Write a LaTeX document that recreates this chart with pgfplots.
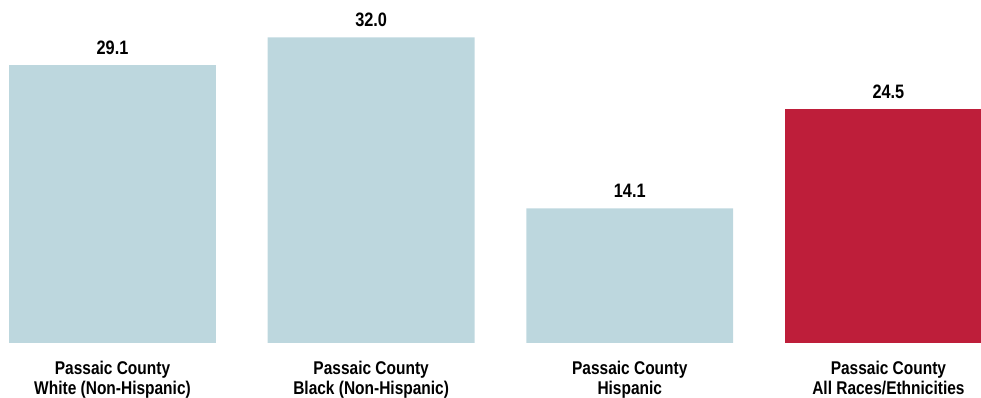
\documentclass[border=0pt]{standalone}
\usepackage{fontspec}
\setmainfont{Liberation Sans}[FakeStretch=0.84]
\usepackage{pgfplots}
\pgfplotsset{compat=1.18}
\definecolor{lightbar}{RGB}{189,215,222}
\definecolor{redbar}{RGB}{190,30,58}
\begin{document}
\begin{tikzpicture}
\begin{axis}[
  scale only axis,
  width=981bp, height=343bp,
  xmin=-0.435, xmax=3.358,
  ymin=0, ymax=35.92,
  ybar, bar width=0.8, bar shift=0pt,
  axis line style={draw=none},
  major tick length=0pt,
  ytick=\empty,
  xtick={0,1,2,3},
  xticklabels={{Passaic County\\White (Non-Hispanic)},{Passaic County\\Black (Non-Hispanic)},{Passaic County\\Hispanic},{Passaic County\\All Races/Ethnicities}},
  xticklabel style={align=center, inner sep=0pt, anchor=north, yshift=-18bp,
    font=\fontsize{18.5}{20.5}\selectfont\bfseries},
  /pgf/number format/assume math mode=true,
  nodes near coords={\pgfmathprintnumber[fixed,fixed zerofill,precision=1]{\pgfplotspointmeta}},
  every node near coord/.append style={font=\fontsize{19.5}{20}\selectfont\bfseries, inner sep=0pt, anchor=south, yshift=10.5bp, black},
]
\addplot[fill=lightbar, draw=none] coordinates {(0,29.1) (1,32.0) (2,14.1)};
\addplot[fill=redbar, draw=none] coordinates {(3,24.5)};
\end{axis}
\pgfresetboundingbox
\useasboundingbox (0,-55bp) rectangle (981bp,343bp);
\end{tikzpicture}
\end{document}
